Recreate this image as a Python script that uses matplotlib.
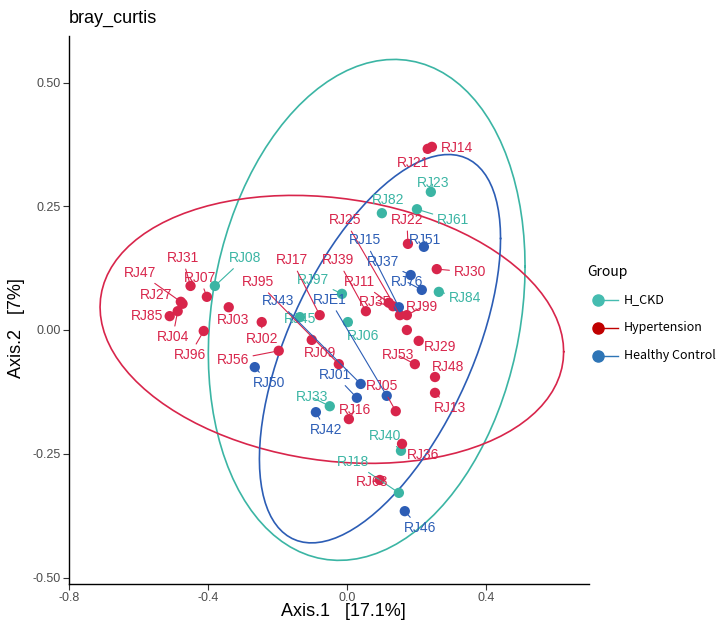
import numpy as np
import matplotlib
matplotlib.use('Agg')
import matplotlib.pyplot as plt
from matplotlib.lines import Line2D

# PCoA 좌표 (bray_curtis)
hckd_names = ['RJ08', 'RJ97', 'RJ45', 'RJ06', 'RJ33', 'RJ23', 'RJ82', 'RJ61', 'RJ84', 'RJ40', 'RJ18']
hckd_x = [-0.380, -0.014, -0.135, 0.003, -0.049, 0.242, 0.101, 0.202, 0.265, 0.156, 0.150]
hckd_y = [0.089, 0.073, 0.026, 0.016, -0.154, 0.279, 0.236, 0.244, 0.077, -0.244, -0.329]

hc_names = ['RJ50', 'RJ43', 'RJE1', 'RJ01', 'RJ42', 'RJ15', 'RJ37', 'RJ76', 'RJ51', 'RJ46']
hc_x = [-0.265, 0.040, 0.115, 0.029, -0.089, 0.150, 0.184, 0.216, 0.222, 0.167]
hc_y = [-0.075, -0.109, -0.133, -0.137, -0.166, 0.046, 0.111, 0.081, 0.168, -0.366]

ht_names = ['RJ31', 'RJ07', 'RJ47', 'RJ27', 'RJ85', 'RJ04', 'RJ96', 'RJ03', 'RJ02', 'RJ56',
            'RJ95', 'RJ17', 'RJ09', 'RJ39', 'RJ05', 'RJ16', 'RJ53', 'RJ14', 'RJ21', 'RJ22',
            'RJ25', 'RJ11', 'RJ35', 'RJ99', '', 'RJ29', 'RJ48', 'RJ13', 'RJ36', 'RJ68', 'RJ30']
ht_x = [-0.450, -0.403, -0.478, -0.473, -0.510, -0.487, -0.412, -0.340, -0.245, -0.196,
        -0.023, -0.078, -0.101, 0.055, 0.141, 0.006, 0.196, 0.245, 0.233, 0.176,
        0.153, 0.121, 0.133, 0.173, 0.173, 0.207, 0.254, 0.254, 0.159, 0.095, 0.259]
ht_y = [0.089, 0.067, 0.057, 0.053, 0.028, 0.038, -0.002, 0.046, 0.016, -0.042,
        -0.069, 0.030, -0.020, 0.038, -0.164, -0.180, -0.069, 0.370, 0.366, 0.174,
        0.030, 0.055, 0.048, 0.030, 0.000, -0.022, -0.095, -0.127, -0.230, -0.303, 0.123]

groups = ['H_CKD', 'Hypertension', 'Healthy Control']
xticks = [-0.8, -0.4, 0.0, 0.4]
xtick_labels = ['-0.8', '-0.4', '0.0', '0.4']
yticks = [-0.50, -0.25, 0.00, 0.25, 0.50]
ytick_labels = ['-0.50', '-0.25', '0.00', '0.25', '0.50']

# 라벨 위치 (픽셀 오프셋, ggrepel 흉내)
label_off = {
    'RJ08': (30, 28), 'RJ97': (-29, 14), 'RJ45': (0, -2), 'RJ06': (15, -14), 'RJ33': (-18, 9),
    'RJ23': (2, 9), 'RJ82': (6, 13), 'RJ61': (36, -11), 'RJ84': (26, -6), 'RJ40': (-16, 15),
    'RJ18': (-46, 31),
    'RJ50': (14, -16), 'RJ43': (-83, 83), 'RJE1': (-57, 96), 'RJ01': (-22, 23), 'RJ42': (10, -18),
    'RJ15': (-34, 67), 'RJ37': (-28, 13), 'RJ76': (-15, 8), 'RJ51': (1, 7), 'RJ46': (15, -17),
    'RJ31': (-8, 28), 'RJ07': (-7, 19), 'RJ47': (-41, 29), 'RJ27': (-26, 9), 'RJ85': (-23, 0),
    'RJ04': (-5, -26), 'RJ96': (-14, -24), 'RJ03': (4, -13), 'RJ02': (0, -17), 'RJ56': (-46, -9),
    'RJ95': (-81, 82), 'RJ17': (-28, 55), 'RJ09': (8, -13), 'RJ39': (-28, 51), 'RJ05': (-14, 25),
    'RJ16': (6, 9), 'RJ53': (-17, 9), 'RJ14': (25, -1), 'RJ21': (-15, -14), 'RJ22': (-1, 24),
    'RJ25': (-55, 95), 'RJ11': (-29, 21), 'RJ35': (-18, 4), 'RJ99': (15, 8), 'RJ29': (21, -6),
    'RJ48': (13, 10), 'RJ13': (15, -15), 'RJ36': (21, -11), 'RJ68': (-8, -2), 'RJ30': (33, -3),
}

col_pt = {'H_CKD': '#3BB5A4', 'Hypertension': '#D8254B', 'Healthy Control': '#2C5DB5'}
col_leg = {'H_CKD': '#45BCB0', 'Hypertension': '#C00000', 'Healthy Control': '#2E75B6'}


def cov_trob(xy, nu=5, maxit=25, tol=0.01):
    # MASS::cov.trob 흉내
    n, p = xy.shape
    loc = xy.mean(axis=0)
    w = np.ones(n)
    X = xy - loc
    for it in range(maxit):
        w0 = w
        X = xy - loc
        u, d, vt = np.linalg.svd(np.sqrt(w / w.sum())[:, None] * X, full_matrices=False)
        wX = X @ vt.T @ np.diag(1 / d)
        Q = (wX ** 2).sum(axis=1)
        w = (nu + p) / (nu + Q)
        loc = (w[:, None] * xy).sum(axis=0) / w.sum()
        if np.all(np.abs(w - w0) < tol):
            break
    sw = np.sqrt(w)[:, None] * X
    return loc, sw.T @ sw / n


def ellipse(xs, ys, level=0.95, seg=100):
    xy = np.column_stack([xs, ys])
    center, shape = cov_trob(xy)
    m = len(xs) - 1
    qf = m / 2 * ((1 - level) ** (-2 / m) - 1)   # F(2, m) quantile
    radius = np.sqrt(2 * qf)
    t = np.linspace(0, 2 * np.pi, seg + 1)
    circ = np.column_stack([np.cos(t), np.sin(t)])
    L = np.linalg.cholesky(shape)
    e = center + radius * (circ @ L.T)
    return e[:, 0], e[:, 1]


plt.rcParams['font.family'] = ['Liberation Sans', 'DejaVu Sans']
fig = plt.figure(figsize=(7.21, 6.25), dpi=100)
ax = fig.add_axes([69 / 721, 1 - 584 / 625, (617 - 69) / 721, (584 - 36) / 625])

data = {
    'H_CKD': (hckd_names, hckd_x, hckd_y),
    'Hypertension': (ht_names, ht_x, ht_y),
    'Healthy Control': (hc_names, hc_x, hc_y),
}

for g in groups:
    names, xs, ys = data[g]
    ex, ey = ellipse(xs, ys)
    ax.plot(ex, ey, color=col_pt[g], lw=1.2, zorder=1)

for g in groups:
    names, xs, ys = data[g]
    ax.scatter(xs, ys, s=55, color=col_pt[g], edgecolors='none', zorder=2)

for g in groups:
    names, xs, ys = data[g]
    for nm, x, y in zip(names, xs, ys):
        if nm == '':
            continue
        dx, dy = label_off[nm]
        ax.annotate(nm, (x, y), xytext=(dx, dy), textcoords='offset pixels',
                    ha='center', va='center', fontsize=10, color=col_pt[g],
                    arrowprops=dict(arrowstyle='-', color=col_pt[g], lw=0.8,
                                    shrinkA=1, shrinkB=0),
                    zorder=3)

ax.set_xlim(-0.80, (617 - 347) / 347)
ax.set_ylim((330 - 584) / 495, (330 - 36) / 495)
ax.set_xticks(xticks)
ax.set_xticklabels(xtick_labels)
ax.set_yticks(yticks)
ax.set_yticklabels(ytick_labels)
ax.tick_params(labelsize=9, labelcolor='#4D4D4D', length=4, width=0.8, color='#333333', pad=2)
for s in ['top', 'right']:
    ax.spines[s].set_visible(False)
ax.spines['bottom'].set_bounds(-0.80, (589 - 347) / 347)
ax.spines['left'].set_linewidth(1.0)
ax.spines['bottom'].set_linewidth(1.0)

fig.text(69 / 721, 1 - 18 / 625, 'bray_curtis', fontsize=13, ha='left', va='center')
fig.text(343 / 721, 1 - 612 / 625, 'Axis.1   [17.1%]', fontsize=13, ha='center', va='center')
fig.text(17 / 721, 1 - 328 / 625, 'Axis.2   [7%]', fontsize=13, ha='center', va='center',
         rotation=90)

# 범례
fig.text(587 / 721, 1 - 272 / 625, 'Group', fontsize=10, ha='left', va='center',
         family=['Noto Sans CJK SC', 'DejaVu Sans'])
for i, g in enumerate(groups):
    yy = 1 - (300 + 28 * i) / 625
    fig.add_artist(Line2D([598 / 721, 618 / 721], [yy, yy], color=col_leg[g], lw=1.0))
    fig.add_artist(Line2D([598 / 721], [yy], marker='o', markersize=8, color=col_leg[g], lw=0))
    fig.text(624 / 721, yy, g, fontsize=9, ha='left', va='center',
             family=['Noto Sans CJK SC', 'DejaVu Sans'])

plt.savefig('out.png', dpi=100)
